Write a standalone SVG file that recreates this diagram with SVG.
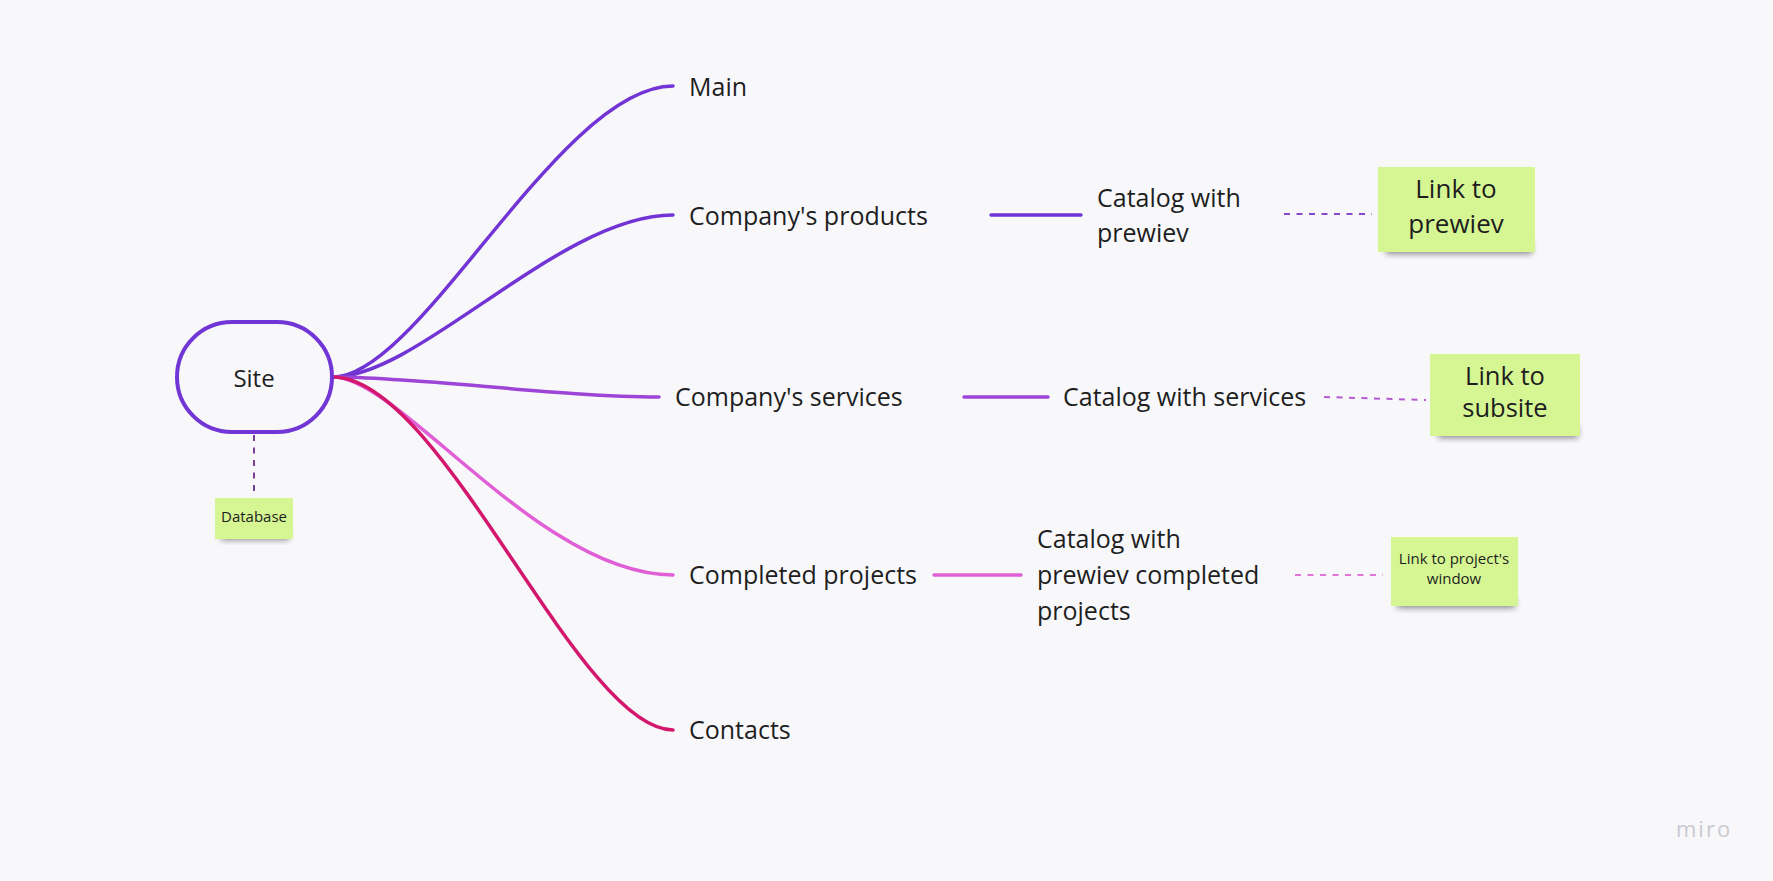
<svg xmlns="http://www.w3.org/2000/svg" width="1773" height="881" viewBox="0 0 1773 881">
<style>
.t{font-family:"Open Sans","Liberation Sans",sans-serif;fill:#1e1e1e}
.l1{font-size:25px}
.l2{font-size:25px}
.c{fill:none;stroke-width:3.5;stroke-linecap:round}
.d{fill:none;stroke-width:2;stroke-dasharray:6 6.5}
.sticky{fill:#d6f694}
.shadow{fill:#000;opacity:.45;filter:url(#blur)}
</style>
<defs>
<filter id="blur" x="-20%" y="-50%" width="140%" height="200%"><feGaussianBlur stdDeviation="3"/></filter>
</defs>
<rect width="1773" height="881" fill="#f8f8fb"/>
<g id="connectors">
<path class="c" stroke="#7234d4" d="M333,377 C420,377 560,86 673,86"/>
<path class="c" stroke="#7234d4" d="M333,377 C420,377 560,215 673,215"/>
<path class="c" stroke="#9c45d6" d="M333,377 C420,377 560,397 659,397"/>
<path class="c" stroke="#e05fd6" d="M333,377 C400,377 540,575 673,575"/>
<path class="c" stroke="#d2176c" d="M333,377 C442,377 578,730 673,730"/>
<line class="c" stroke="#7234d4" x1="991" y1="215" x2="1081" y2="215"/>
<line class="c" stroke="#9c45d6" x1="964" y1="397" x2="1048" y2="397"/>
<line class="c" stroke="#e05fd6" x1="934" y1="575" x2="1021" y2="575"/>
<line class="d" stroke="#8a48c8" x1="1284" y1="214" x2="1372" y2="214"/>
<line class="d" stroke="#b35ad2" x1="1324" y1="397" x2="1426" y2="400"/>
<line class="d" stroke="#e274d8" x1="1295" y1="575" x2="1383" y2="575"/>
<line class="d" stroke="#7e3f98" x1="254" y1="435" x2="254" y2="495"/>
</g>
<g id="site">
<rect x="177" y="322" width="155" height="110" rx="55" fill="#f8f8fb" stroke="#7236d6" stroke-width="4"/>
<text class="t" x="254" y="387" font-size="24" text-anchor="middle">Site</text>
</g>
<g id="database">
<rect class="shadow" x="221" y="530" width="68" height="10"/>
<rect class="sticky" x="215" y="498" width="78" height="41"/>
<text class="t" x="254" y="522" font-size="15" text-anchor="middle">Database</text>
</g>
<g id="main"><text class="t l1" x="689" y="96">Main</text></g>
<g id="products"><text class="t l1" x="689" y="225">Company's products</text></g>
<g id="services"><text class="t l1" x="675" y="406">Company's services</text></g>
<g id="completed"><text class="t l1" x="689" y="584">Completed projects</text></g>
<g id="contacts"><text class="t l1" x="689" y="739">Contacts</text></g>
<g id="catalog-prewiev"><text class="t l2" x="1097" y="207">Catalog with<tspan x="1097" y="242">prewiev</tspan></text></g>
<g id="catalog-services"><text class="t l2" x="1063" y="406">Catalog with services</text></g>
<g id="catalog-completed"><text class="t l2" x="1037" y="548">Catalog with<tspan x="1037" y="584">prewiev completed</tspan><tspan x="1037" y="620">projects</tspan></text></g>
<g id="link-prewiev">
<rect class="shadow" x="1386" y="242" width="146" height="12"/>
<rect class="sticky" x="1378" y="167" width="157" height="85"/>
<text class="t" x="1456" y="198" font-size="26" text-anchor="middle">Link to<tspan x="1456" y="233">prewiev</tspan></text>
</g>
<g id="link-subsite">
<rect class="shadow" x="1438" y="426" width="140" height="12"/>
<rect class="sticky" x="1430" y="354" width="150" height="82"/>
<text class="t" x="1505" y="385" font-size="25.5" text-anchor="middle">Link to<tspan x="1505" y="417">subsite</tspan></text>
</g>
<g id="link-window">
<rect class="shadow" x="1397" y="597" width="118" height="11"/>
<rect class="sticky" x="1391" y="537" width="127" height="69"/>
<text class="t" x="1454" y="564" font-size="15" text-anchor="middle">Link to project's<tspan x="1454" y="584">window</tspan></text>
</g>
<text x="1676" y="837" font-family="Open Sans, Liberation Sans, sans-serif" font-size="22" letter-spacing="2" fill="#c9c9d2">miro</text>
</svg>
